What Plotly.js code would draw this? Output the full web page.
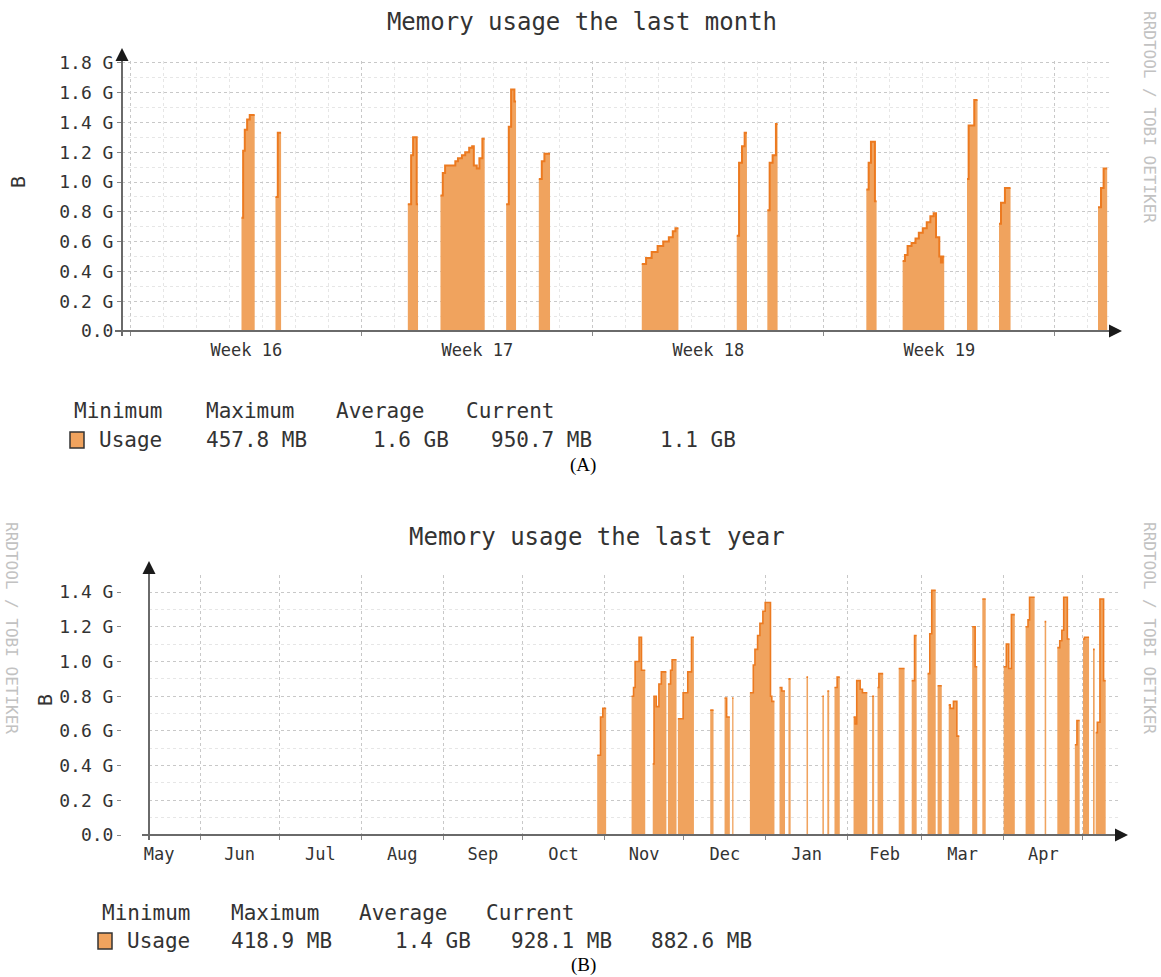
<!DOCTYPE html>
<html>
<head>
<meta charset="utf-8">
<script src="https://cdn.plot.ly/plotly-3.0.1.min.js"></script>
<style>html,body{margin:0;padding:0;background:#fff}#chart{width:1161px;height:977px}</style>
</head>
<body>
<div id="chart"></div>
<script>
// ---------- DATA ----------
// (A) last month: timestamps of steps, null = no data
const monthTimes = [
'2019-04-18 08:24','2019-04-18 09:36','2019-04-18 10:48','2019-04-18 12:30','2019-04-18 14:24','2019-04-18 18:00','2019-04-18 18:01',
'2019-04-19 09:07','2019-04-19 10:48','2019-04-19 13:12','2019-04-19 13:13',
'2019-04-23 09:22','2019-04-23 11:46','2019-04-23 13:12','2019-04-23 15:50','2019-04-23 16:48','2019-04-23 16:49',
'2019-04-24 09:07','2019-04-24 10:48','2019-04-24 12:29','2019-04-24 19:55','2019-04-24 21:50','2019-04-25 00:43','2019-04-25 03:07','2019-04-25 06:00','2019-04-25 08:10','2019-04-25 09:22','2019-04-25 11:31','2019-04-25 13:26','2019-04-25 15:36','2019-04-25 17:17','2019-04-25 17:18',
'2019-04-26 08:53','2019-04-26 10:48','2019-04-26 12:29','2019-04-26 14:53','2019-04-26 16:05','2019-04-26 16:06',
'2019-04-27 08:38','2019-04-27 10:48','2019-04-27 12:43','2019-04-27 16:48','2019-04-27 16:49',
'2019-04-30 11:31','2019-04-30 14:38','2019-04-30 18:43','2019-04-30 23:02','2019-05-01 03:07','2019-05-01 07:12','2019-05-01 10:05','2019-05-01 12:00','2019-05-01 14:10','2019-05-01 14:11',
'2019-05-03 08:35','2019-05-03 10:16','2019-05-03 12:25','2019-05-03 14:20','2019-05-03 16:01','2019-05-03 16:02',
'2019-05-04 06:50','2019-05-04 08:31','2019-05-04 10:41','2019-05-04 13:05','2019-05-04 14:17','2019-05-04 14:18',
'2019-05-07 06:50','2019-05-07 08:31','2019-05-07 10:12','2019-05-07 13:05','2019-05-07 14:17','2019-05-07 14:18',
'2019-05-08 09:14','2019-05-08 10:55','2019-05-08 12:50','2019-05-08 15:43','2019-05-08 18:36','2019-05-08 21:00','2019-05-08 23:53','2019-05-09 02:46','2019-05-09 05:24','2019-05-09 07:48','2019-05-09 09:29','2019-05-09 11:53','2019-05-09 13:05','2019-05-09 14:17','2019-05-09 15:29','2019-05-09 15:30',
'2019-05-10 08:02','2019-05-10 09:14','2019-05-10 13:19','2019-05-10 15:43','2019-05-10 15:44',
'2019-05-11 07:19','2019-05-11 08:46','2019-05-11 11:38','2019-05-11 15:43','2019-05-11 15:44',
'2019-05-14 07:19','2019-05-14 09:29','2019-05-14 11:24','2019-05-14 14:00'
];
const monthUsage = [
0.76,1.21,1.35,1.42,1.45,1.45,null,
0.90,1.33,1.33,null,
0.85,1.18,1.30,0.85,0.85,null,
0.91,1.06,1.11,1.14,1.16,1.18,1.20,1.23,1.24,1.11,1.09,1.16,1.29,1.29,null,
0.85,1.37,1.62,1.54,1.54,null,
1.02,1.14,1.19,1.19,null,
0.45,0.49,0.53,0.57,0.60,0.63,0.67,0.69,0.69,null,
0.64,1.13,1.24,1.33,1.33,null,
0.81,1.13,1.18,1.39,1.39,null,
0.95,1.13,1.27,0.87,0.87,null,
0.47,0.51,0.57,0.59,0.62,0.66,0.69,0.73,0.77,0.79,0.63,0.50,0.46,0.50,0.50,null,
1.02,1.38,1.55,1.55,null,
0.72,0.86,0.96,0.96,null,
0.83,0.96,1.09,1.09
];

// (B) last year
const yearTimes = [
'2018-10-29 06:00','2018-10-30 12:00','2018-10-31 09:00','2018-11-01 15:00','2018-11-01 15:01',
'2018-11-11 06:00','2018-11-12 00:00','2018-11-12 14:00','2018-11-14 02:00','2018-11-15 00:00','2018-11-16 10:00','2018-11-16 10:01',
'2018-11-19 06:00','2018-11-19 18:00','2018-11-20 14:00','2018-11-21 14:00','2018-11-22 12:00','2018-11-24 10:00','2018-11-24 10:01',
'2018-11-25 00:00','2018-11-26 00:00','2018-11-26 14:00','2018-11-28 06:00','2018-11-28 06:01',
'2018-11-28 18:00','2018-11-30 18:00','2018-12-02 12:00','2018-12-03 22:00','2018-12-04 20:00','2018-12-04 20:01',
'2018-12-11 00:00','2018-12-12 06:00','2018-12-12 06:01',
'2018-12-16 10:00','2018-12-17 05:00','2018-12-18 10:00','2018-12-18 10:01',
'2018-12-19 07:00','2018-12-19 19:00','2018-12-19 19:01',
'2018-12-26 00:00','2018-12-27 07:00','2018-12-27 22:00','2018-12-28 22:00','2018-12-29 19:00','2018-12-30 22:00','2018-12-31 19:00','2019-01-02 19:00','2019-01-03 07:00','2019-01-04 07:00','2019-01-04 07:01',
'2019-01-06 05:00','2019-01-07 02:00','2019-01-08 07:00','2019-01-08 07:01',
'2019-01-09 14:00','2019-01-10 10:00','2019-01-10 10:01',
'2019-01-16 10:00','2019-01-17 00:00','2019-01-17 00:01',
'2019-01-22 10:00','2019-01-23 00:00','2019-01-23 00:01',
'2019-01-24 07:00','2019-01-25 00:00','2019-01-25 00:01',
'2019-01-27 00:00','2019-01-28 00:00','2019-01-29 00:00','2019-01-29 00:01',
'2019-02-03 05:00','2019-02-03 19:00','2019-02-04 10:00','2019-02-05 17:00','2019-02-06 14:00','2019-02-08 10:00','2019-02-08 10:01',
'2019-02-10 05:00','2019-02-11 00:00','2019-02-11 00:01',
'2019-02-12 07:00','2019-02-12 19:00','2019-02-14 10:00','2019-02-14 10:01',
'2019-02-20 07:00','2019-02-22 12:00','2019-02-22 12:01',
'2019-02-25 05:00','2019-02-26 07:00','2019-02-27 02:00','2019-02-27 02:01',
'2019-03-03 05:00','2019-03-04 01:00','2019-03-04 19:00','2019-03-06 07:00','2019-03-06 07:01',
'2019-03-07 00:00','2019-03-08 14:00','2019-03-08 14:01',
'2019-03-11 05:00','2019-03-11 19:00','2019-03-13 00:00','2019-03-14 07:00','2019-03-15 05:00','2019-03-15 05:01',
'2019-03-20 02:00','2019-03-21 05:00','2019-03-22 00:00','2019-03-22 00:01',
'2019-03-23 22:00','2019-03-25 05:00','2019-03-25 05:01',
'2019-04-01 00:00','2019-04-02 00:00','2019-04-02 22:00','2019-04-03 22:00','2019-04-05 05:00','2019-04-05 05:01',
'2019-04-09 07:00','2019-04-10 05:00','2019-04-10 19:00','2019-04-12 17:00','2019-04-12 17:01',
'2019-04-16 12:00','2019-04-17 02:00','2019-04-17 02:01',
'2019-04-21 07:00','2019-04-22 05:00','2019-04-23 00:00','2019-04-23 17:00','2019-04-25 02:00','2019-04-25 22:00','2019-04-25 22:01',
'2019-04-27 22:00','2019-04-28 17:00','2019-04-29 18:00','2019-04-29 18:01',
'2019-05-01 00:00','2019-05-01 14:00','2019-05-03 07:00','2019-05-03 07:01',
'2019-05-04 19:00','2019-05-05 10:00','2019-05-05 10:01',
'2019-05-05 19:00','2019-05-06 10:00','2019-05-07 10:00','2019-05-08 19:00','2019-05-09 14:00'
];
const yearUsage = [
0.46,0.68,0.73,0.73,null,
0.80,0.85,1.00,1.14,0.95,0.95,null,
0.41,0.80,0.74,0.87,0.94,0.94,null,
0.87,0.95,1.01,1.01,null,
0.67,0.82,0.94,1.14,1.14,null,
0.72,0.72,null,
0.79,0.68,0.68,null,
0.79,0.79,null,
0.82,0.98,1.07,1.15,1.22,1.29,1.34,0.80,0.77,0.77,null,
0.85,0.83,0.83,null,
0.90,0.90,null,
0.91,0.91,null,
0.80,0.80,null,
0.83,0.83,null,
0.85,0.91,0.91,null,
0.68,0.64,0.89,0.84,0.82,0.82,null,
0.80,0.80,null,
0.85,0.93,0.93,null,
0.96,0.96,null,
0.89,1.15,1.15,null,
0.93,1.16,1.41,1.41,null,
0.86,0.86,null,
0.75,0.73,0.77,0.57,0.57,null,
1.20,0.97,0.97,null,
1.36,1.36,null,
0.97,1.10,0.96,1.27,1.27,null,
1.20,1.24,1.37,1.37,null,
1.23,1.23,null,
1.08,1.12,1.18,1.37,1.13,1.13,null,
0.52,0.66,0.66,null,
1.13,1.14,1.14,null,
1.07,1.07,null,
0.59,0.65,1.36,0.89,0.89
];

const monthTickVals = [0,0.2,0.4,0.6,0.8,1.0,1.2,1.4,1.6,1.8];
const monthTickText = ['0.0','0.2 G','0.4 G','0.6 G','0.8 G','1.0 G','1.2 G','1.4 G','1.6 G','1.8 G'];
const yearTickVals = [0,0.2,0.4,0.6,0.8,1.0,1.2,1.4];
const yearTickText = ['0.0','0.2 G','0.4 G','0.6 G','0.8 G','1.0 G','1.2 G','1.4 G'];

const legendHeaders = ['Minimum','Maximum','Average','Current'];
const seriesName = 'Usage';
const monthStats = ['457.8 MB','1.6 GB','950.7 MB','1.1 GB'];
const yearStats = ['418.9 MB','1.4 GB','928.1 MB','882.6 MB'];

const titles = ['Memory usage the last month','Memory usage the last year'];
const panelLabels = ['(A)','(B)'];
const unitLabel = 'B';
const watermark = 'RRDTOOL / TOBI OETIKER';

// ---------- LAYOUT HELPERS ----------
const W = 1161, H = 977;
const px = x => x / W;
const py = y => 1 - y / H;
const MONO = 'DejaVu Sans Mono, monospace';
const FILL = '#F0A35E';
const LINE = '#EC7A20';
const TXT = '#333333';

const gA = 149;    // px per 1 G (month)
const gB = 173.5;  // px per 1 G (year)

// split a series at null entries so each run of data is filled on its own
function runs(xs, ys) {
  const out = []; let cx = [], cy = [];
  xs.forEach((x, i) => {
    if (ys[i] === null) { if (cx.length) out.push([cx, cy]); cx = []; cy = []; }
    else { cx.push(x); cy.push(ys[i]); }
  });
  if (cx.length) out.push([cx, cy]);
  return out;
}

const traces = [];
runs(monthTimes, monthUsage).forEach(([x, y]) => traces.push(
  {x: x, y: y, xaxis: 'x', yaxis: 'y', type: 'scatter', mode: 'lines',
   line: {shape: 'hv', color: LINE, width: 2}, fill: 'tozeroy', fillcolor: FILL,
   hoverinfo: 'skip', showlegend: false}));
runs(yearTimes, yearUsage).forEach(([x, y]) => traces.push(
  {x: x, y: y, xaxis: 'x2', yaxis: 'y2', type: 'scatter', mode: 'lines',
   line: {shape: 'hv', color: LINE, width: 1.6}, fill: 'tozeroy', fillcolor: FILL,
   hoverinfo: 'skip', showlegend: false}));

const gridMajor = '#c8c8c8', gridMinor = '#e6e6e6';

function yAxis(domain, range, vals, text) {
  return {domain: domain, range: range, tickmode: 'array', tickvals: vals, ticktext: text,
    showline: false, zeroline: false, ticks: 'outside', ticklen: 4, tickcolor: '#888', tickwidth: 1,
    showgrid: true, gridcolor: gridMajor, griddash: 'dot', gridwidth: 1,
    minor: {dtick: 0.1, tick0: 0, showgrid: true, gridcolor: gridMinor, griddash: 'dot', gridwidth: 1, ticks: ''},
    tickfont: {family: MONO, size: 18, color: TXT}, fixedrange: true};
}

const layout = {
  width: W, height: H, margin: {l: 0, r: 0, t: 0, b: 0},
  paper_bgcolor: '#ffffff', plot_bgcolor: '#ffffff', showlegend: false,
  title: {text: titles[0], x: px(582), xanchor: 'center', y: py(22), yanchor: 'middle', xref: 'paper', yref: 'paper',
          font: {family: MONO, size: 24, color: TXT}},
  xaxis: {domain: [px(122), px(1112)], anchor: 'y', type: 'date',
    range: ['2019-04-14 17:30', '2019-05-14 17:30'],
    tick0: '2019-04-15', dtick: 7 * 86400000, ticklabelmode: 'period', tickformat: 'Week %V',
    ticks: 'outside', ticklen: 4, tickcolor: '#888',
    showgrid: true, gridcolor: gridMajor, griddash: 'dot', gridwidth: 1, showline: false, zeroline: false,
    minor: {tick0: '2019-04-15', dtick: 86400000, showgrid: true, gridcolor: gridMinor, griddash: 'dot', gridwidth: 1, ticks: ''},
    tickfont: {family: MONO, size: 17, color: TXT}, fixedrange: true},
  yaxis: yAxis([py(331), py(331 - 1.81 * gA)], [0, 1.81], monthTickVals, monthTickText),
  xaxis2: {domain: [px(149), px(1120)], anchor: 'y2', type: 'date',
    range: ['2018-05-12 17:00', '2019-05-15 00:00'],
    tick0: '2018-05-01', dtick: 'M1', ticklabelmode: 'period', tickformat: '%b',
    ticks: 'outside', ticklen: 4, tickcolor: '#888',
    showgrid: true, gridcolor: gridMajor, griddash: 'dot', gridwidth: 1, showline: false, zeroline: false,
    tickfont: {family: MONO, size: 17, color: TXT}, fixedrange: true},
  yaxis2: yAxis([py(835), py(835 - 1.5 * gB)], [0, 1.5], yearTickVals, yearTickText),
  shapes: [], annotations: []
};

// axis lines (paper px)
const axisColor = '#6a6a6a';
function hline(x0, x1, y) { layout.shapes.push({type: 'line', xref: 'paper', yref: 'paper', x0: px(x0), x1: px(x1), y0: py(y), y1: py(y), line: {color: axisColor, width: 2}}); }
function vline(x, y0, y1) { layout.shapes.push({type: 'line', xref: 'paper', yref: 'paper', x0: px(x), x1: px(x), y0: py(y0), y1: py(y1), line: {color: axisColor, width: 2}}); }
hline(115, 1114, 331); vline(122, 336, 56);
hline(142, 1120, 835); vline(149, 840, 568);

function arrow(x, y, ax, ay) {
  layout.annotations.push({xref: 'paper', yref: 'paper', x: px(x), y: py(y), ax: ax, ay: ay, text: '',
    showarrow: true, arrowhead: 2, arrowsize: 1.3, arrowwidth: 2, arrowcolor: '#1a1a1a'});
}
arrow(1122, 331, -12, 0); arrow(122, 48, 0, 12);
arrow(1128, 835, -12, 0); arrow(149, 561, 0, 12);

function txt(t, x, y, opts) {
  layout.annotations.push(Object.assign({xref: 'paper', yref: 'paper', x: px(x), y: py(y), text: t, showarrow: false,
    xanchor: 'left', yanchor: 'middle', font: {family: MONO, size: 21, color: TXT}}, opts || {}));
}

// second title
txt(titles[1], 597, 537, {xanchor: 'center', font: {family: MONO, size: 24, color: TXT}});
// unit labels
txt(unitLabel, 18, 182, {xanchor: 'center', textangle: -90, font: {family: MONO, size: 20, color: TXT}});
txt(unitLabel, 45, 700, {xanchor: 'center', textangle: -90, font: {family: MONO, size: 20, color: TXT}});
// watermarks
const wmFont = {family: MONO, size: 16, color: '#c2c2c2'};
txt(watermark, 1150, 117, {xanchor: 'center', textangle: 90, font: wmFont});
txt(watermark, 1150, 628, {xanchor: 'center', textangle: 90, font: wmFont});
txt(watermark, 12, 628, {xanchor: 'center', textangle: 90, font: wmFont});

// legends
const hdrA = [72, 204, 334, 464], valA = [204, 371, 489, 658];
const hdrB = [100, 229, 357, 484], valB = [229, 393, 509, 649];
legendHeaders.forEach((h, i) => { txt(h, hdrA[i], 411); txt(h, hdrB[i], 913); });
txt(seriesName, 97, 440); txt(seriesName, 125, 941);
monthStats.forEach((s, i) => txt(s, valA[i], 440));
yearStats.forEach((s, i) => txt(s, valB[i], 941));
function swatch(x0, y0) {
  layout.shapes.push({type: 'rect', xref: 'paper', yref: 'paper', x0: px(x0), x1: px(x0 + 14), y0: py(y0 + 16), y1: py(y0),
    fillcolor: FILL, line: {color: '#333', width: 1.5}});
}
swatch(70, 432); swatch(98, 933);

// panel labels
const serif = {family: 'Liberation Serif, Times New Roman, serif', size: 19, color: '#000'};
txt(panelLabels[0], 583, 465, {xanchor: 'center', font: serif});
txt(panelLabels[1], 583, 965, {xanchor: 'center', font: serif});

Plotly.newPlot('chart', traces, layout, {displayModeBar: false, staticPlot: true});
</script>
</body>
</html>
